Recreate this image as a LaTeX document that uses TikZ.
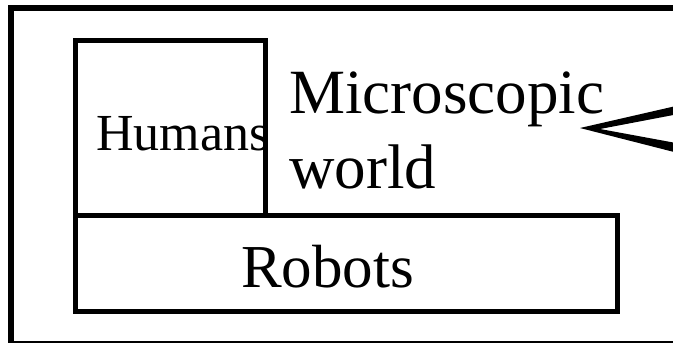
\documentclass[tikz,border=0pt]{standalone}
\usepackage{fontspec}
\setmainfont{Liberation Serif}
\begin{document}
\begin{tikzpicture}[x=1pt,y=-1pt,
  frame/.style={draw=black,line width=6pt},
  box/.style={draw=black,line width=5pt,inner sep=0pt,minimum width=#1},
  label/.style={anchor=base west,inner sep=0pt,text=black},
  bigtext/.style={label,font=\fontsize{63}{75}\selectfont},
  midtext/.style={label,font=\fontsize{61}{72}\selectfont},
  smalltext/.style={label,font=\fontsize{52}{62}\selectfont}]
\useasboundingbox (0,0) rectangle (673,343);
\clip (0,0) rectangle (673,343);
% outer frame, running past the right and bottom edges
\draw[frame] (11,8) rectangle (700,344);
% the two boxes
\node[box=190pt,minimum height=175pt] (humansbox) at (170.5,128) {};
\node[box=542pt,minimum height=96pt] (robotsbox) at (346.5,263.5) {};
% labels
\node[smalltext] (humans) at (96,150) {Humans};
\node[bigtext] (micro) at (289,113) {Microscopic};
\node[bigtext] (world) at (289,188) {world};
\node[midtext] (robots) at (241,287) {Robots};
% pointer coming in from the right
\coordinate (tip) at (580,128);
\fill[black] (tip) -- (676,106) -- (676,114.5) -- (600,129) -- (676,143) -- (676,152.5) -- cycle;
\end{tikzpicture}
\end{document}
